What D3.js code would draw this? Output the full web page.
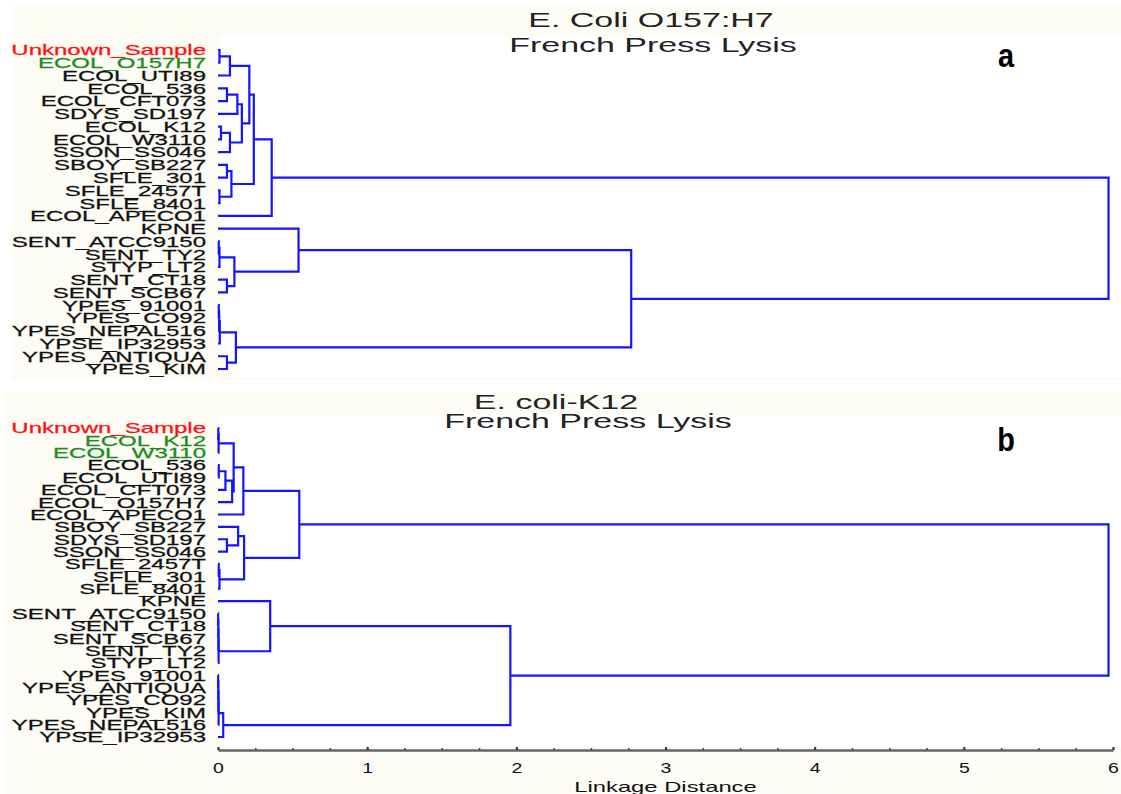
<!DOCTYPE html>
<html>
<head>
<meta charset="utf-8">
<script src="https://cdn.jsdelivr.net/npm/d3@7"></script>
<style>
  body { margin: 0; background: #fff; }
  svg { display: block; }
  text { font-family: "Liberation Sans", Arial, sans-serif; }
</style>
</head>
<body>
<svg id="chart" width="1121" height="794"></svg>
<script>
// ---- data ----
const topLeaves = ["Unknown_Sample", "ECOL_O157H7", "ECOL_UTI89", "ECOL_536", "ECOL_CFT073",
  "SDYS_SD197", "ECOL_K12", "ECOL_W3110", "SSON_SS046", "SBOY_SB227", "SFLE_301", "SFLE_2457T",
  "SFLE_8401", "ECOL_APECO1", "KPNE", "SENT_ATCC9150", "SENT_TY2", "STYP_LT2", "SENT_CT18",
  "SENT_SCB67", "YPES_91001", "YPES_CO92", "YPES_NEPAL516", "YPSE_IP32953", "YPES_ANTIQUA", "YPES_KIM"];

// [childA, childB, linkage distance]; ids >= leaves.length refer to earlier merges
const topMerges = [
  [0, 1, 0.01], [26, 2, 0.08], [3, 4, 0.06], [28, 5, 0.13], [6, 7, 0.02], [30, 8, 0.08],
  [29, 31, 0.16], [27, 32, 0.21], [9, 10, 0.06], [11, 12, 0.01], [34, 35, 0.09], [33, 36, 0.24],
  [37, 13, 0.36], [15, 16, 0.005], [39, 17, 0.01], [18, 19, 0.06], [40, 41, 0.11], [14, 42, 0.54],
  [20, 21, 0.005], [44, 22, 0.008], [45, 23, 0.012], [24, 25, 0.06], [46, 47, 0.12], [43, 48, 2.77],
  [38, 49, 5.97]
];

const bottomLeaves = ["Unknown_Sample", "ECOL_K12", "ECOL_W3110", "ECOL_536", "ECOL_UTI89",
  "ECOL_CFT073", "ECOL_O157H7", "ECOL_APECO1", "SBOY_SB227", "SDYS_SD197", "SSON_SS046",
  "SFLE_2457T", "SFLE_301", "SFLE_8401", "KPNE", "SENT_ATCC9150", "SENT_CT18", "SENT_SCB67",
  "SENT_TY2", "STYP_LT2", "YPES_91001", "YPES_ANTIQUA", "YPES_CO92", "YPES_KIM", "YPES_NEPAL516", "YPSE_IP32953"];

const bottomMerges = [
  [0, 1, 0.002], [26, 2, 0.004], [3, 4, 0.005], [28, 5, 0.05], [29, 6, 0.095], [27, 30, 0.105],
  [31, 7, 0.17], [9, 10, 0.06], [8, 33, 0.135], [11, 12, 0.005], [35, 13, 0.01], [34, 36, 0.175],
  [32, 37, 0.545], [15, 16, 0.001], [39, 17, 0.002], [40, 18, 0.003], [41, 19, 0.004], [14, 42, 0.35],
  [20, 21, 0.001], [44, 22, 0.002], [45, 23, 0.003], [46, 24, 0.004], [47, 25, 0.035], [43, 48, 1.96],
  [38, 49, 5.97]
];

const topRed = ["Unknown_Sample"];
const topGreen = ["ECOL_O157H7"];
const bottomRed = ["Unknown_Sample"];
const bottomGreen = ["ECOL_K12", "ECOL_W3110"];

const topTitle = ["E. Coli O157:H7", "French Press Lysis"];
const bottomTitle = ["E. coli-K12", "French Press Lysis"];
const xTicks = [0, 1, 2, 3, 4, 5, 6];
const axisTitle = "Linkage Distance";

// ---- drawing ----
const svg = d3.select("#chart");
const CREAM = "#fcfbf4";
const LINE = "#1414ff";
const SX = 1.6;   // the source figure's text is stretched horizontally

const x = d3.scaleLinear().domain([0, 6]).range([218, 1113]);

function drawPanel(p) {
  // backgrounds
  svg.append("rect").attr("x", p.bg[0]).attr("y", p.bg[1])
    .attr("width", 1121 - p.bg[0]).attr("height", p.bg[2] - p.bg[1]).attr("fill", CREAM);
  svg.append("rect").attr("x", 219).attr("y", p.plot[0])
    .attr("width", 1121 - 219).attr("height", p.plot[1] - p.plot[0]).attr("fill", "#fff");

  const y = d3.scalePoint().domain(p.leaves).range(p.yRange);

  const pos = p.leaves.map(name => ({ x: x(0), y: y(name) }));
  p.merges.forEach(([a, b, h]) => {
    pos.push({ x: x(h), y: (pos[a].y + pos[b].y) / 2 });
  });

  const g = svg.append("g");
  g.selectAll("path")
    .data(p.merges)
    .enter().append("path")
    .attr("d", (m, i) => {
      const a = pos[m[0]], b = pos[m[1]], node = pos[p.leaves.length + i];
      return `M${a.x},${a.y}H${node.x}V${b.y}H${b.x}`;
    })
    .attr("fill", "none")
    .attr("stroke", LINE)
    .attr("stroke-width", 2.2);

  const colour = d => p.red.includes(d) ? "#ff1010" : p.green.includes(d) ? "#1c8c1c" : "#111";
  svg.append("g").selectAll("text")
    .data(p.leaves)
    .enter().append("text")
    .attr("transform", d => `translate(206,${y(d)}) scale(${SX},1)`)
    .attr("dy", "0.36em")
    .attr("text-anchor", "end")
    .attr("font-size", 15)
    .attr("fill", colour)
    .attr("stroke", colour)
    .attr("stroke-width", 0.25)
    .text(d => d);

  p.title.forEach((t, i) => {
    svg.append("text")
      .attr("transform", `translate(${p.titleX[i]},${p.titleY[i]}) scale(1.7,1)`)
      .attr("text-anchor", "middle")
      .attr("dy", "0.36em")
      .attr("font-size", 20)
      .attr("fill", "#222")
      .text(t);
  });

  svg.append("text")
    .attr("transform", `translate(1006,${p.tagY}) scale(0.85,1)`)
    .attr("text-anchor", "middle")
    .attr("dy", "0.36em")
    .attr("font-size", 34)
    .attr("font-weight", "bold")
    .attr("fill", "#000")
    .text(p.tag);
}

drawPanel({
  leaves: topLeaves, merges: topMerges, red: topRed, green: topGreen,
  yRange: [50, 369], bg: [12, 5, 380], plot: [36, 378],
  title: topTitle, titleX: [651, 653], titleY: [20, 45], tag: "a", tagY: 55
});

drawPanel({
  leaves: bottomLeaves, merges: bottomMerges, red: bottomRed, green: bottomGreen,
  yRange: [428, 737], bg: [3, 393, 794], plot: [415, 746],
  title: bottomTitle, titleX: [556, 588], titleY: [402, 421], tag: "b", tagY: 439
});

// x axis
const axisY = 750;
const minor = svg.append("g")
  .attr("transform", `translate(0,${axisY})`)
  .call(d3.axisBottom(x).tickValues(d3.range(0, 6.001, 0.25)).tickSizeInner(-2).tickSizeOuter(0).tickFormat(""));
minor.select(".domain").attr("stroke", "#666").attr("stroke-width", 2.5);
minor.selectAll(".tick line").attr("stroke", "#444").attr("stroke-width", 1.5);

const major = svg.append("g")
  .attr("transform", `translate(0,${axisY})`)
  .call(d3.axisBottom(x).tickValues(xTicks).tickSizeInner(-3).tickSizeOuter(0).tickPadding(12).tickFormat(d3.format("d")));
major.select(".domain").remove();
major.selectAll(".tick line").attr("stroke", "#333").attr("stroke-width", 2);
major.selectAll(".tick text")
  .attr("font-size", 15)
  .attr("fill", "#111")
  .attr("font-family", "Liberation Sans, Arial, sans-serif")
  .attr("transform", "scale(1.3,1)");

svg.append("text")
  .attr("transform", `translate(${x(3)},787) scale(1.7,1)`)
  .attr("text-anchor", "middle")
  .attr("dy", "0.36em")
  .attr("font-size", 14)
  .attr("fill", "#111")
  .text(axisTitle);
</script>
</body>
</html>
